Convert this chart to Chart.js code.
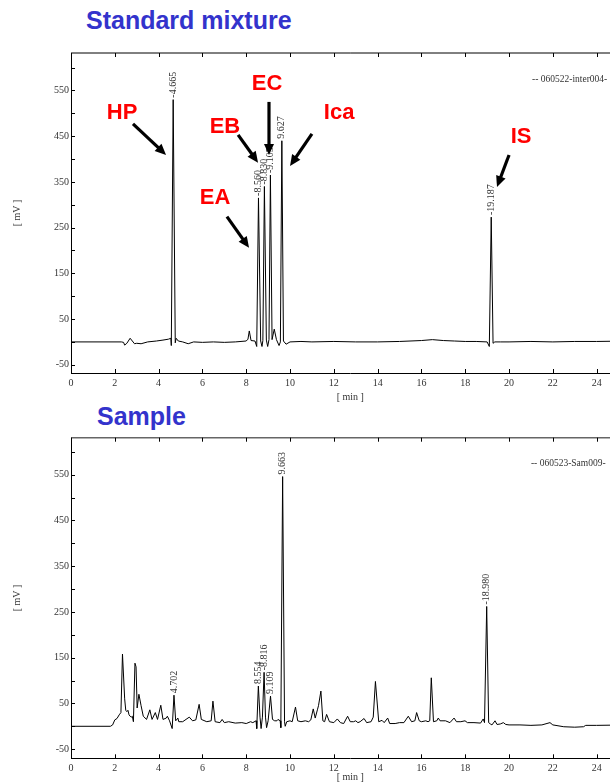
<!DOCTYPE html>
<html>
<head>
<meta charset="utf-8">
<script src="https://cdn.jsdelivr.net/npm/chart.js@4.4.1/dist/chart.umd.min.js"></script>
<style>
body { margin:0; background:#fff; overflow:hidden; width:610px; height:784px; position:relative; }
.title { position:absolute; font-family:"Liberation Sans", Arial, sans-serif; font-weight:bold; font-size:25px; line-height:25px; color:#3333cc; white-space:nowrap; }
canvas { position:absolute; left:0; }
</style>
</head>
<body>
<div class="title" style="left:86px; top:8px;">Standard mixture</div>
<div class="title" style="left:97px; top:404px;">Sample</div>
<canvas id="stdChart" width="660" height="410" style="top:0"></canvas>
<canvas id="samChart" width="660" height="374" style="top:410px"></canvas>
<script>
// axis ticks
var xTicks = [0, 2, 4, 6, 8, 10, 12, 14, 16, 18, 20, 22, 24];
var yTicks = [-50, 0, 50, 100, 150, 200, 250, 300, 350, 400, 450, 500, 550, 600];

// standard mixture run (min / mV)
var stdTime = [
  0, 2.3, 2.4, 2.45, 2.55, 2.7, 2.8, 2.9, 3.0, 3.2,
  3.5, 3.9, 4.2, 4.45, 4.56, 4.58, 4.665, 4.76, 4.8, 4.9,
  5.1, 5.35, 5.6, 6.0, 6.5, 7.0, 7.5, 8.0, 8.08, 8.14,
  8.22, 8.4, 8.48, 8.56, 8.66, 8.72, 8.76, 8.83, 8.92, 8.98,
  9.04, 9.105, 9.18, 9.28, 9.38, 9.5, 9.56, 9.627, 9.7, 9.82,
  10.0, 10.5, 11, 12, 13, 14, 15, 16, 16.5, 17,
  17.5, 18, 18.5, 19.0, 19.1, 19.187, 19.27, 19.35, 19.6, 20,
  21, 22, 23, 24, 25.5
];
var stdSignal = [
  0, 0, -1, -7, -3, 8, 2, -4, -3, -4,
  0, 2, 4, 6, 8, -8, 530, -2, 8, 2,
  0, -4, 0, -1, 0, -1, 0, 2, 6, 24,
  3, 2, -10, 315, 2, -10, 3, 340, 4, -10,
  5, 365, 5, 28, 5, -8, 0, 440, 2, -5,
  0, 1, 0, 1, 0, 0, 1, 3, 5, 3,
  2, 1, 1, 0, -10, 273, -3, 0, 0, 0,
  1, 0, 1, 1, 2
];
var stdPeakTimes = [4.665, 8.56, 8.83, 9.105, 9.627, 19.187];
var stdPeakLabels = ["-4.665", "-8.560", "-8.830", "-9.105", "9.627", "-19.187"];

// compound names with arrows (label pos, arrow tail, arrow tip) in min / mV
var stdNames = ["HP", "EA", "EB", "EC", "Ica", "IS"];
var stdNameAt = [[2.33, 501], [6.58, 315], [7.03, 470], [8.95, 565], [12.24, 501], [20.55, 449]];
var stdArrowFrom = [[2.83, 477], [7.12, 274], [7.63, 453], [9.04, 525], [11.0, 455], [20.0, 409]];
var stdArrowTo = [[4.34, 409], [8.13, 206], [8.54, 392], [9.04, 409], [10.0, 385], [19.45, 339]];

// sample run (min / mV)
var samTime = [
  0, 1.8, 1.9, 2.0, 2.1, 2.2, 2.28, 2.35, 2.45, 2.5,
  2.55, 2.6, 2.65, 2.7, 2.75, 2.8, 2.85, 2.92, 2.97, 3.02,
  3.1, 3.2, 3.3, 3.45, 3.6, 3.7, 3.85, 3.95, 4.1, 4.2,
  4.35, 4.4, 4.5, 4.62, 4.702, 4.78, 4.88, 4.92, 5.1, 5.4,
  5.55, 5.7, 5.85, 5.95, 6.2, 6.4, 6.48, 6.58, 6.8, 6.9,
  7.0, 7.2, 7.5, 7.8, 8.0, 8.2, 8.3, 8.45, 8.48, 8.554,
  8.63, 8.68, 8.74, 8.816, 8.88, 8.93, 9.0, 9.109, 9.2, 9.3,
  9.4, 9.45, 9.55, 9.58, 9.663, 9.75, 9.78, 9.85, 10.0, 10.1,
  10.25, 10.35, 10.5, 10.7, 10.85, 10.95, 11.06, 11.15, 11.25, 11.3,
  11.41, 11.5, 11.58, 11.67, 11.8, 12.0, 12.16, 12.3, 12.45, 12.63,
  12.75, 12.9, 13.0, 13.1, 13.2, 13.38, 13.5, 13.7, 13.8, 13.9,
  14.05, 14.2, 14.3, 14.46, 14.55, 14.8, 15.0, 15.2, 15.4, 15.55,
  15.7, 15.78, 15.9, 16.0, 16.2, 16.3, 16.38, 16.45, 16.55, 16.7,
  16.77, 16.85, 17.1, 17.3, 17.49, 17.6, 17.8, 17.99, 18.1, 18.4,
  18.7, 18.82, 18.88, 18.98, 19.07, 19.15, 19.22, 19.36, 19.45, 19.6,
  19.74, 19.85, 20.0, 20.5, 21, 21.5, 21.87, 22.0, 22.5, 23.0,
  23.4, 23.5, 24, 25.5
];
var samSignal = [
  0, 0, 3, 14, 17, 25, 30, 158, 60, 35,
  32, 35, 25, 22, 20, 22, 10, 138, 130, 40,
  70, 45, 22, 15, 36, 15, 30, 15, 46, 15,
  18, 22, 12, -5, 68, 12, 18, 10, 10, 20,
  12, 14, 48, 15, 10, 12, 55, 10, 8, 15,
  8, 10, 7, 8, 6, 10, 8, 12, -5, 88,
  20, -5, 20, 118, 20, -3, 12, 66, 15, 12,
  12, 15, 12, -3, 546, 10, 0, 10, 12, 10,
  42, 12, 10, 12, 10, 14, 38, 18, 36, 45,
  77, 12, 10, 26, 10, 8, 16, 8, 6, 22,
  10, 10, 12, 8, 10, 17, 8, 10, 20, 98,
  10, 13, 8, 18, 6, 6, 8, 8, 22, 10,
  12, 30, 12, 10, 12, 10, 12, 106, 10, 12,
  18, 12, 12, 8, 18, 10, 10, 12, 8, 8,
  7, 16, 8, 262, 8, 5, 3, 12, 4, 5,
  8, 4, 3, 3, 2, 3, 8, 3, -1, -2,
  -1, 2, 2, 3
];
var samPeakTimes = [4.702, 8.554, 8.816, 9.109, 9.663, 18.98];
var samPeakLabels = ["4.702", "8.554", "-8.816", "9.109", "9.663", "-18.980"];

var serif = "'Liberation Serif', 'Times New Roman', serif";

function drawArrow(ctx, x1, y1, x2, y2) {
  var a = Math.atan2(y2 - y1, x2 - x1);
  var head = 11, half = 5;
  ctx.beginPath();
  ctx.moveTo(x1, y1);
  ctx.lineTo(x2 - Math.cos(a) * head * 0.8, y2 - Math.sin(a) * head * 0.8);
  ctx.lineWidth = 3.2;
  ctx.strokeStyle = "#000";
  ctx.stroke();
  ctx.beginPath();
  ctx.moveTo(x2, y2);
  ctx.lineTo(x2 - head * Math.cos(a) + half * Math.sin(a), y2 - head * Math.sin(a) - half * Math.cos(a));
  ctx.lineTo(x2 - head * Math.cos(a) - half * Math.sin(a), y2 - head * Math.sin(a) + half * Math.cos(a));
  ctx.closePath();
  ctx.fillStyle = "#000";
  ctx.fill();
}

var chromDeco = {
  id: "chromDeco",
  afterDraw: function(chart, args, o) {
    var ctx = chart.ctx, area = chart.chartArea;
    var xs = chart.scales.x, ys = chart.scales.y;
    ctx.save();
    // top frame line
    ctx.beginPath();
    ctx.moveTo(area.left, area.top);
    ctx.lineTo(area.right, area.top);
    ctx.lineWidth = o.topWidth;
    ctx.strokeStyle = o.topColor;
    ctx.stroke();
    // inward tick marks
    ctx.beginPath();
    xTicks.forEach(function(v) {
      var px = Math.round(xs.getPixelForValue(v)) + 0.5;
      ctx.moveTo(px, area.bottom); ctx.lineTo(px, area.bottom - 4);
      ctx.moveTo(px, area.top); ctx.lineTo(px, area.top + 4);
    });
    yTicks.forEach(function(v) {
      var py = Math.round(ys.getPixelForValue(v)) + 0.5;
      ctx.moveTo(area.left, py); ctx.lineTo(area.left + 4, py);
    });
    ctx.lineWidth = 1;
    ctx.strokeStyle = "#000";
    ctx.stroke();

    // retention time labels
    ctx.fillStyle = "#333";
    ctx.font = "10px " + serif;
    ctx.textAlign = "left";
    ctx.textBaseline = "middle";
    o.peakTimes.forEach(function(t, i) {
      var v = o.signal[o.time.indexOf(t)];
      ctx.save();
      ctx.translate(xs.getPixelForValue(t), ys.getPixelForValue(v) - 2);
      ctx.rotate(-Math.PI / 2);
      ctx.fillText(o.peakLabels[i], 0, 0);
      ctx.restore();
    });

    // run name
    ctx.font = "9.5px " + serif;
    ctx.fillText(o.runName, xs.getPixelForValue(o.runAt[0]), ys.getPixelForValue(o.runAt[1]));

    // compound names and arrows
    if (o.names) {
      o.names.forEach(function(n, i) {
        drawArrow(ctx, xs.getPixelForValue(o.from[i][0]), ys.getPixelForValue(o.from[i][1]),
          xs.getPixelForValue(o.to[i][0]), ys.getPixelForValue(o.to[i][1]));
        ctx.fillStyle = "#ff0000";
        ctx.font = "bold 22px 'Liberation Sans', Arial, sans-serif";
        ctx.textAlign = "center";
        ctx.textBaseline = "middle";
        ctx.fillText(n, xs.getPixelForValue(o.nameAt[i][0]), ys.getPixelForValue(o.nameAt[i][1]));
      });
    }
    ctx.restore();
  }
};

function makeChart(id, time, signal, yMin, yMax, padTop, xHeight, titlePad, deco) {
  return new Chart(document.getElementById(id), {
    type: "line",
    data: {
      datasets: [{
        data: time.map(function(t, i) { return { x: t, y: signal[i] }; }),
        borderColor: "#000",
        borderWidth: 1,
        pointRadius: 0,
        tension: 0,
        fill: false
      }]
    },
    options: {
      responsive: false,
      animation: false,
      layout: { padding: { top: padTop, right: 30.5, bottom: 0, left: 0 } },
      plugins: { legend: { display: false }, tooltip: { enabled: false }, chromDeco: deco },
      scales: {
        x: {
          type: "linear", min: 0, max: 25.5,
          afterBuildTicks: function(s) { s.ticks = xTicks.map(function(v) { return { value: v }; }); },
          afterFit: function(s) { s.height = xHeight; },
          ticks: { padding: 4, maxRotation: 0, autoSkip: false, color: "#333", font: { family: serif, size: 10 } },
          grid: { display: false, drawTicks: false },
          border: { color: "#000", width: 1 },
          title: { display: true, text: "[ min ]", color: "#333", font: { family: serif, size: 10 }, padding: { top: 0, bottom: titlePad } }
        },
        y: {
          type: "linear", min: yMin, max: yMax,
          afterBuildTicks: function(s) { s.ticks = yTicks.map(function(v) { return { value: v }; }); },
          afterFit: function(s) { s.width = 71; },
          ticks: {
            padding: 2, autoSkip: false, color: "#333", font: { family: serif, size: 10 },
            callback: function(v) { return v % 100 === 0 ? "" : v; }
          },
          grid: { display: false, drawTicks: false },
          border: { color: "#000", width: 1 },
          title: { display: true, text: "[ mV ]", color: "#333", font: { family: serif, size: 10 }, padding: { top: 11, bottom: 0 } }
        }
      }
    },
    plugins: [chromDeco]
  });
}

makeChart("stdChart", stdTime, stdSignal, -68, 632, 53, 37, 7, {
  time: stdTime, signal: stdSignal, peakTimes: stdPeakTimes, peakLabels: stdPeakLabels,
  runName: "-- 060522-inter004-", runAt: [21.05, 573],
  topColor: "#000", topWidth: 1,
  names: stdNames, nameAt: stdNameAt, from: stdArrowFrom, to: stdArrowTo
});

makeChart("samChart", samTime, samSignal, -70, 631, 27.7, 25.7, 1, {
  time: samTime, signal: samSignal, peakTimes: samPeakTimes, peakLabels: samPeakLabels,
  runName: "-- 060523-Sam009-", runAt: [21.0, 574],
  topColor: "#666", topWidth: 1.5
});
</script>
</body>
</html>
